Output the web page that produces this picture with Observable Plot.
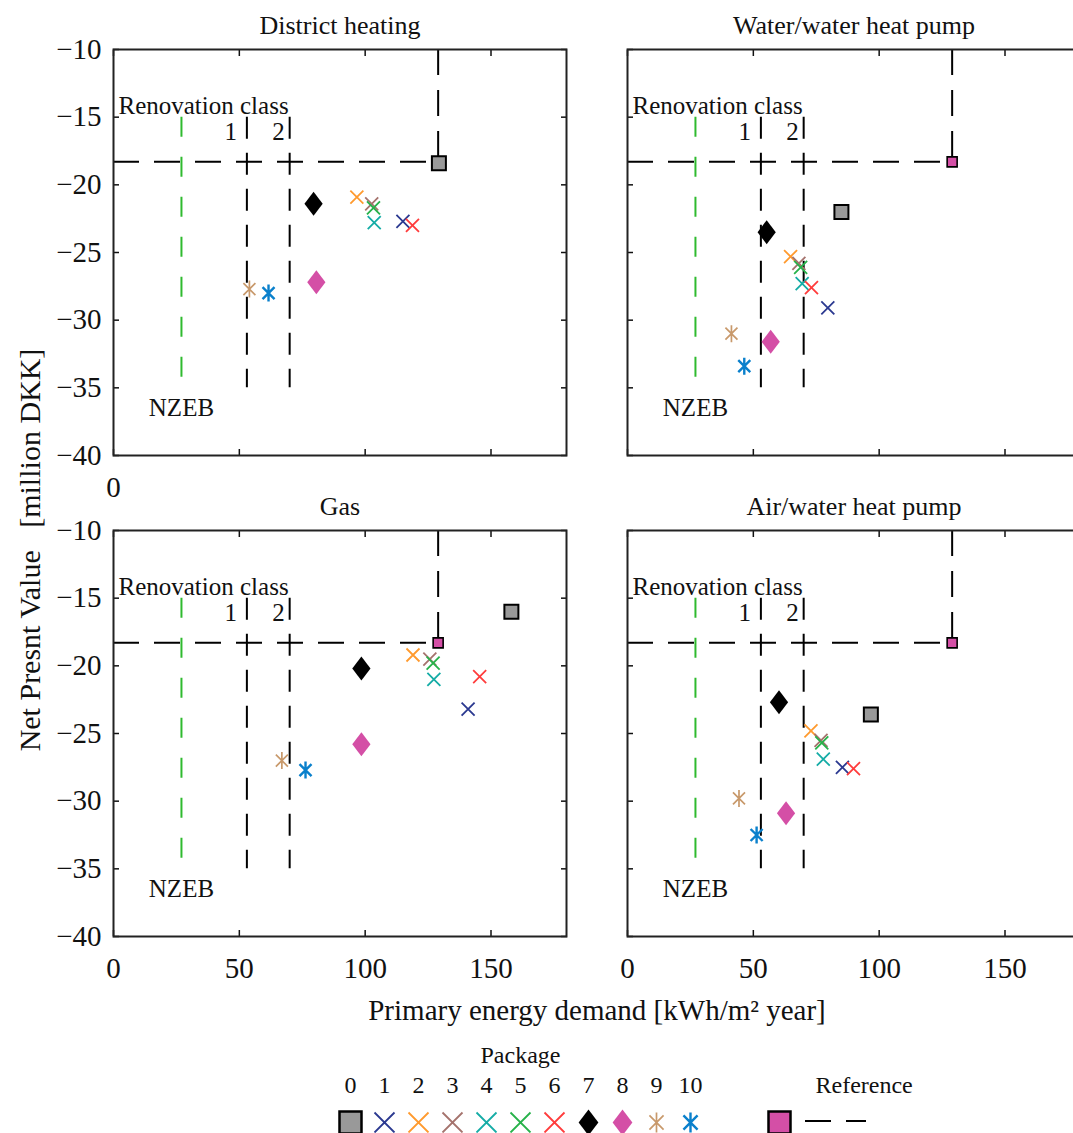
<!DOCTYPE html>
<html>
<head>
<meta charset="utf-8">
<script src="https://cdn.jsdelivr.net/npm/d3@7"></script>
<script src="https://cdn.jsdelivr.net/npm/@observablehq/plot@0.6"></script>
<style>
html, body { margin: 0; padding: 0; background: #fff; overflow: hidden; }
#wrap { position: relative; width: 1073px; height: 1133px; overflow: hidden;
  font-family: "Liberation Serif", "Times New Roman", serif; color: #111; }
#chart { position: absolute; left: 0; top: 0; width: 1100px; }
#legend { position: absolute; left: 0; top: 1040px; }
#chart svg, #legend svg { max-width: none !important; }
.ylab { position: absolute; left: 30px; top: 550px; transform: translate(-50%, -50%) rotate(-90deg);
  white-space: pre; font-size: 30px; line-height: 1; }
.xlab { position: absolute; left: 597px; top: 1010px; transform: translate(-50%, -50%);
  white-space: nowrap; font-size: 29px; line-height: 1; }
svg text { font-family: "Liberation Serif", "Times New Roman", serif !important; }
</style>
</head>
<body>
<div id="wrap">
  <div id="chart"></div>
  <div id="legend"></div>
  <div class="ylab">Net Presnt Value   [million DKK]</div>
  <div class="xlab">Primary energy demand [kWh/m² year]</div>
</div>
<script>
// ---------------- data ----------------
const systems = ["District heating", "Water/water heat pump", "Gas", "Air/water heat pump"];
const packages = [0, 1, 2, 3, 4, 5, 6, 7, 8, 9, 10];
const packageColors = ["#999999", "#2b3990", "#ff9a2e", "#a5736d", "#15aca6", "#27b24a",
                       "#ff3c3c", "#000000", "#d44fa6", "#c8996b", "#0a80cc"];
const packageSymbols = ["square", "times", "times", "times", "times", "times", "times",
                        "diamond", "diamond", "asterisk", "asterisk"];

// Primary energy demand [kWh/m² year], packages 0..10
const energyDistrict = [129.3, 115.0, 96.7, 102.6, 103.6, 103.3, 118.8, 79.5, 80.6, 54.0, 61.6];
const energyWaterHP  = [85.0, 79.6, 64.8, 68.1, 69.4, 68.8, 73.1, 55.3, 56.9, 41.3, 46.4];
const energyGas      = [158.1, 140.9, 119.0, 125.7, 127.3, 127.0, 145.5, 98.5, 98.5, 66.9, 76.3];
const energyAirHP    = [96.7, 85.4, 72.9, 76.9, 77.8, 77.2, 89.8, 60.2, 63.0, 44.3, 51.3];
// Net present value [million DKK], packages 0..10
const npvDistrict = [-18.4, -22.7, -20.9, -21.4, -22.8, -21.7, -23.0, -21.4, -27.2, -27.7, -28.0];
const npvWaterHP  = [-22.0, -29.1, -25.3, -25.8, -27.3, -26.1, -27.6, -23.5, -31.6, -31.0, -33.4];
const npvGas      = [-16.0, -23.2, -19.2, -19.5, -21.0, -19.8, -20.8, -20.2, -25.8, -27.0, -27.7];
const npvAirHP    = [-23.6, -27.5, -24.8, -25.5, -26.9, -25.7, -27.6, -22.7, -30.9, -29.8, -32.5];

// Reference building, one per system
const refEnergy = [129.0, 129.0, 129.0, 129.0];
const refNpv = [-18.3, -18.3, -18.3, -18.3];

// Limits
const nzebLimit = 27;
const classLimits = [53, 70];
const classLabels = ["1", "2"];
const limitTop = -15, limitBottom = -35;

const xTicks = [0, 50, 100, 150];
const yTicks = [-40, -35, -30, -25, -20, -15, -10];

// ---------------- build tables ----------------
const energyBySystem = [energyDistrict, energyWaterHP, energyGas, energyAirHP];
const npvBySystem = [npvDistrict, npvWaterHP, npvGas, npvAirHP];
const facets = systems.map((s, i) => ({system: s, col: i % 2, row: Math.floor(i / 2)}));
const points = [];
facets.forEach((f, i) => packages.forEach((p, j) => points.push({
  ...f, pkg: p, x: energyBySystem[i][j], y: npvBySystem[i][j]
})));
const refs = facets.map((f, i) => ({...f, x: refEnergy[i], y: refNpv[i]}));

// ---------------- custom symbols ----------------
const rOf = (size) => Math.sqrt(size / Math.PI);
const symSquare = {draw(c, s) { const r = rOf(s); c.moveTo(-r, -r); c.lineTo(r, -r); c.lineTo(r, r); c.lineTo(-r, r); c.closePath(); }};
const symTimes = {draw(c, s) { const r = rOf(s); c.moveTo(-r, -r); c.lineTo(r, r); c.moveTo(-r, r); c.lineTo(r, -r); }};
const symDiamond = {draw(c, s) { const r = rOf(s), w = r * 0.76; c.moveTo(0, -r); c.lineTo(w, 0); c.lineTo(0, r); c.lineTo(-w, 0); c.closePath(); }};
const symAsterisk = {draw(c, s) { const r = rOf(s), d = r * Math.SQRT1_2; c.moveTo(0, -r); c.lineTo(0, r); c.moveTo(-d, -d); c.lineTo(d, d); c.moveTo(-d, d); c.lineTo(d, -d); }};

const styleFor = (p, big) => {
  const kind = packageSymbols[p], col = packageColors[p];
  if (kind === "square") return {symbol: symSquare, r: big ? 11 : 7, fill: col, stroke: "#000", strokeWidth: big ? 2.5 : 2};
  if (kind === "times") return {symbol: symTimes, r: big ? 10 : 6.5, fill: "none", stroke: col, strokeWidth: 1.8};
  if (kind === "diamond") return {symbol: symDiamond, r: big ? 13 : 12, fill: col, stroke: "none"};
  return {symbol: symAsterisk, r: big ? 10 : 8.5, fill: "none", stroke: col, strokeWidth: p === 10 ? 2.4 : 1.7};
};

const pink = packageColors[8];
const dashBlack = "26,15";
const svgStyle = {background: "transparent", color: "#111", maxWidth: "none", overflow: "visible",
  fontFamily: "Liberation Serif, serif"};

// ---------------- main chart ----------------
const chart = Plot.plot({
  width: 1100, height: 1040,
  marginLeft: 113, marginRight: 20, marginTop: 49, marginBottom: 103,
  style: svgStyle,
  fx: {domain: [0, 1], paddingInner: 61 / 514, paddingOuter: 0, axis: null},
  fy: {domain: [0, 1], paddingInner: 75 / 481.5, paddingOuter: 0, axis: null},
  x: {domain: [0, 180], axis: null},
  y: {domain: [-40, -10], axis: null},
  color: {type: "identity"},
  marks: [
    // renovation class limits
    Plot.ruleX([nzebLimit], {x: d => d, y1: () => limitTop, y2: () => limitBottom,
      stroke: "#2fba2f", strokeWidth: 2, strokeDasharray: "20,20"}),
    Plot.ruleX(classLimits, {x: d => d, y1: () => limitTop, y2: () => limitBottom,
      stroke: "#000", strokeWidth: 2, strokeDasharray: "22,14"}),
    // reference cross-hair
    Plot.ruleY(refs, {fx: "col", fy: "row", y: "y", x1: () => 0, x2: "x",
      stroke: "#000", strokeWidth: 2, strokeDasharray: dashBlack}),
    Plot.ruleX(refs, {fx: "col", fy: "row", x: "x", y1: () => -10, y2: "y",
      stroke: "#000", strokeWidth: 2, strokeDasharray: dashBlack}),
    // annotations
    Plot.text(["Renovation class"], {frameAnchor: "left", y: () => limitTop, dx: 5, dy: -3,
      textAnchor: "start", lineAnchor: "bottom", fontSize: 25}),
    Plot.text([0], {x: () => classLimits[0], y: () => limitTop, text: () => classLabels[0],
      textAnchor: "end", lineAnchor: "top", dx: -10, dy: 5, fontSize: 25}),
    Plot.text([1], {x: () => classLimits[1], y: () => limitTop, text: () => classLabels[1],
      textAnchor: "end", lineAnchor: "top", dx: -5, dy: 5, fontSize: 25}),
    Plot.text(["NZEB"], {x: () => nzebLimit, y: () => -36.5, textAnchor: "middle",
      lineAnchor: "middle", fontSize: 25}),
    // reference points
    Plot.dot(refs, {fx: "col", fy: "row", x: "x", y: "y", symbol: symSquare, r: 5,
      fill: pink, stroke: "#000", strokeWidth: 1.6}),
    // packages
    ...packages.map(p => Plot.dot(points.filter(d => d.pkg === p),
      {fx: "col", fy: "row", x: "x", y: "y", ...styleFor(p, false)})),
    // facet titles
    Plot.text(facets, {fx: "col", fy: "row", frameAnchor: "top", dy: -24, text: "system",
      lineAnchor: "middle", fontSize: 26}),
    // stray "0" under top-left panel
    Plot.text([facets[0]], {fx: "col", fy: "row", x: () => 0, frameAnchor: "bottom",
      text: () => "0", lineAnchor: "top", dy: 21, fontSize: 29}),
    // inward ticks on every side
    Plot.axisX({anchor: "bottom", ticks: xTicks, tickSize: -6, tickFormat: () => "", facetAnchor: null, strokeWidth: 1.5, label: null}),
    Plot.axisX({anchor: "top", ticks: xTicks, tickSize: -6, tickFormat: () => "", facetAnchor: null, strokeWidth: 1.5, label: null}),
    Plot.axisY({anchor: "left", ticks: yTicks, tickSize: -6, tickFormat: () => "", facetAnchor: null, strokeWidth: 1.5, label: null}),
    Plot.axisY({anchor: "right", ticks: yTicks, tickSize: -6, tickFormat: () => "", facetAnchor: null, strokeWidth: 1.5, label: null}),
    // tick labels
    Plot.axisX({anchor: "bottom", ticks: xTicks, tickSize: 0, tickPadding: 21,
      tickFormat: d3.format("d"), fontSize: 29, label: null}),
    Plot.axisY({anchor: "left", ticks: yTicks, tickSize: 0, tickPadding: 12,
      tickFormat: d3.format("d"), fontSize: 29, label: null}),
    Plot.frame({stroke: "#222", strokeWidth: 2})
  ]
});
document.getElementById("chart").append(chart);

// ---------------- legend ----------------
const legend = Plot.plot({
  width: 1073, height: 93, margin: 0,
  style: svgStyle,
  x: {type: "point", domain: packages, range: [332, 708], axis: null},
  color: {type: "identity"},
  marks: [
    Plot.text(["Package"], {x: () => 5, frameAnchor: "top", dy: 15, lineAnchor: "middle", fontSize: 24}),
    Plot.text(packages, {x: d => d, text: d => String(d), frameAnchor: "top", dy: 45, lineAnchor: "middle", fontSize: 24}),
    ...packages.map(p => Plot.dot([p], {x: d => d, frameAnchor: "top", dy: 82, ...styleFor(p, true)})),
    Plot.text(["Reference"], {frameAnchor: "top-left", dx: 815, dy: 45, lineAnchor: "middle", fontSize: 24}),
    Plot.dot(["Reference"], {frameAnchor: "top-left", dx: 779, dy: 82, symbol: symSquare, r: 11,
      fill: pink, stroke: "#000", strokeWidth: 2.5})
  ]
});
d3.select(legend).append("line")
  .attr("x1", 805).attr("x2", 866).attr("y1", 81).attr("y2", 81)
  .attr("stroke", "#000").attr("stroke-width", 2).attr("stroke-dasharray", "26,15");
document.getElementById("legend").append(legend);
</script>
</body>
</html>
